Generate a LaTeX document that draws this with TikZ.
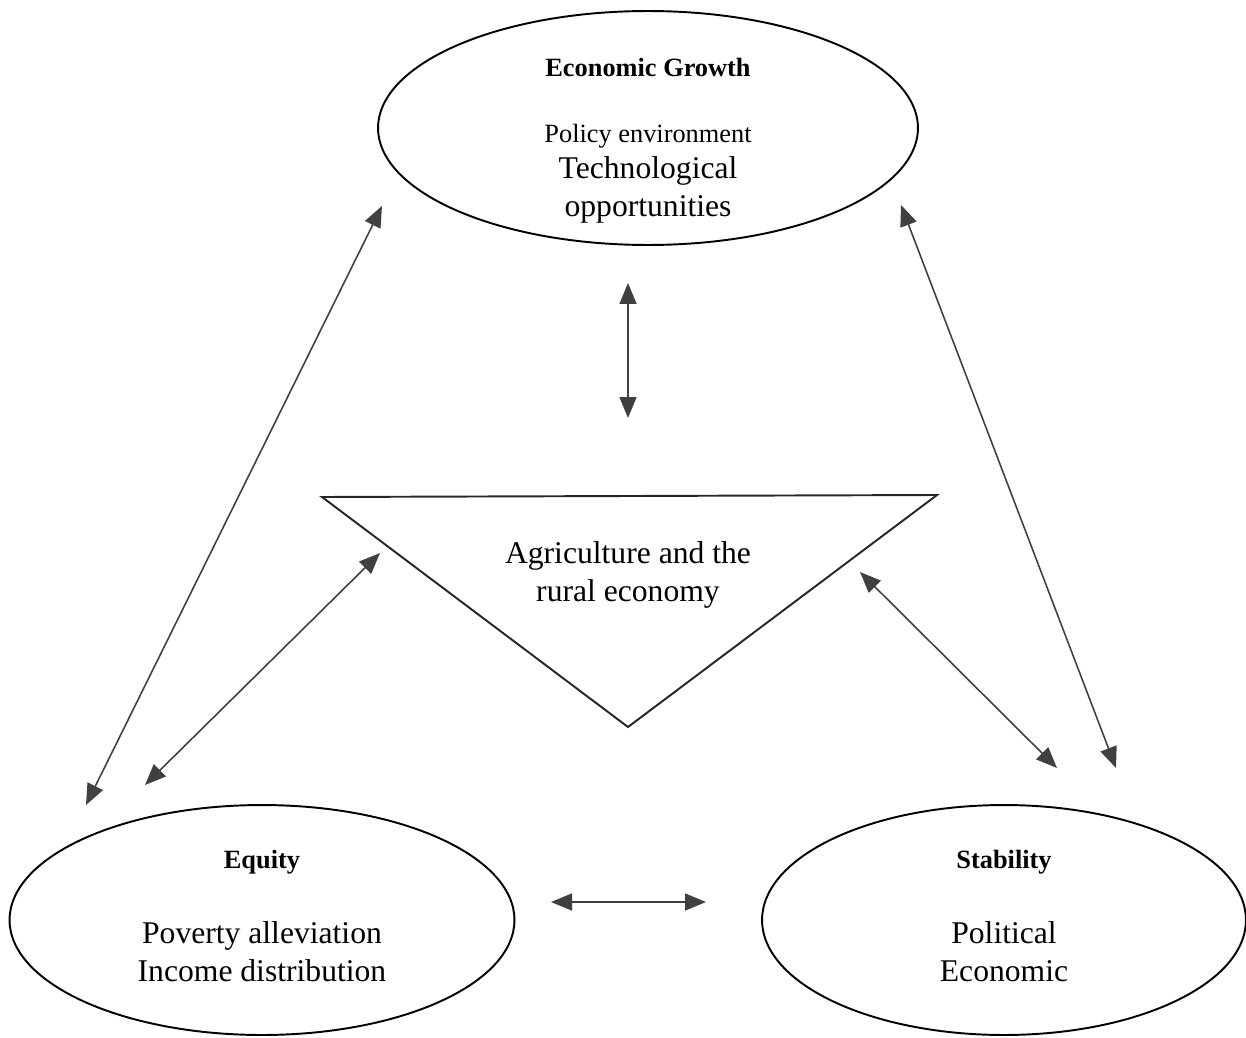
\documentclass[tikz,border=0pt]{standalone}
\usepackage{fontspec}
\setmainfont{Liberation Serif}
\usepackage{tikz}
\usetikzlibrary{shapes,arrows,positioning,calc,arrows.meta}

\begin{document}
\begin{tikzpicture}[
    x=0.02cm, y=-0.02cm,
    oval/.style={ellipse, draw, line width=1.1pt, inner sep=0pt},
    head/.style={font=\fontsize{15}{18}\selectfont\bfseries},
    body/.style={font=\fontsize{18}{21.5}\selectfont, align=center},
    link/.style={{Triangle[length=0.42cm,width=0.34cm]}-{Triangle[length=0.42cm,width=0.34cm]},
                 line width=0.9pt, draw=black!75}
]
    \useasboundingbox (0,0) rectangle (1246,1037);

    % the three pillars
    \node[oval, minimum width=10.8cm, minimum height=4.68cm] (growth) at (648,128) {};
    \node[oval, minimum width=10.1cm, minimum height=4.6cm] (equity) at (262,920) {};
    \node[oval, minimum width=9.68cm, minimum height=4.6cm] (stab) at (1004,920) {};

    \node[head] (growthT) at (648,67) {Economic Growth};
    \node[font=\fontsize{15}{18}\selectfont] (policy) at (648,136) {Policy environment};
    \node[body] (techno) at (648,190) {Technological\\opportunities};

    \node[head] (equityT) at (262,862) {Equity};
    \node[body] (equityB) at (262,952) {Poverty alleviation\\Income distribution};

    \node[head] (stabT) at (1004,862) {Stability};
    \node[body] (stabB) at (1004,952) {Political\\Economic};

    % agriculture triangle
    \coordinate (triL) at (322,497);
    \coordinate (triR) at (937,495);
    \coordinate (triB) at (628,727);
    \draw[line width=1.1pt, draw=black!85] (triL) -- (triR) -- (triB) -- cycle;
    \node[body] (agri) at (628,575) {Agriculture and the\\rural economy};

    % arrow ends
    \coordinate (vA) at (628,283);  \coordinate (vB) at (628,418);
    \coordinate (lA) at (382,206);  \coordinate (lB) at (86,805);
    \coordinate (liA) at (380,553); \coordinate (liB) at (145,785);
    \coordinate (rA) at (901,205);  \coordinate (rB) at (1116,768);
    \coordinate (riA) at (860,572); \coordinate (riB) at (1057,768);
    \coordinate (hA) at (551,902);  \coordinate (hB) at (706,902);

    \draw[link] (vA) -- (vB);
    \draw[link] (lA) -- (lB);
    \draw[link] (liA) -- (liB);
    \draw[link] (rA) -- (rB);
    \draw[link] (riA) -- (riB);
    \draw[link] (hA) -- (hB);
\end{tikzpicture}
\end{document}
